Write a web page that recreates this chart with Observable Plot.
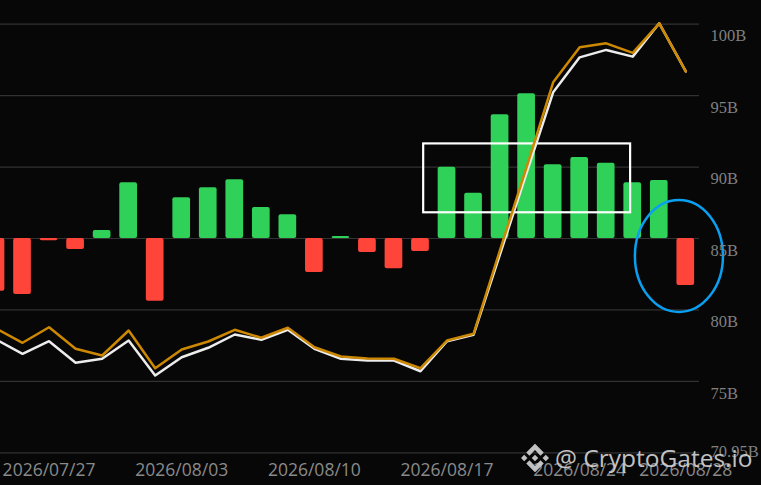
<!DOCTYPE html>
<html>
<head>
<meta charset="utf-8">
<script src="https://cdn.jsdelivr.net/npm/d3@7"></script>
<script src="https://cdn.jsdelivr.net/npm/@observablehq/plot@0.6"></script>
<style>
  html, body { margin: 0; padding: 0; background: #070707; }
  #chart { position: relative; width: 761px; height: 485px; overflow: hidden; }
  #watermark {
    position: absolute; left: 521px; top: 441px; display: flex; align-items: center;
    color: #d6d6d6; font-family: "Open Sans", sans-serif; font-size: 24.5px; opacity: 0.9;
    white-space: nowrap; pointer-events: none;
  }
  #watermark svg { margin-right: 6px; }
</style>
</head>
<body>
<div id="chart">
  <div id="watermark">
    <svg width="28" height="28" viewBox="0 0 128 128"><path fill="#d6d6d6" d="M38.7 53.2 64 27.9l25.3 25.3 14.7-14.7L64 -1.5 24 38.5zM0 64l14.7-14.7L29.4 64 14.7 78.7zM38.7 74.8 64 100.1l25.3-25.3 14.7 14.7L64 129.5 24 89.5zM98.6 64l14.7-14.7L128 64l-14.7 14.7zM78.9 64 64 49.1 49.1 64 64 78.9z"/></svg>
    <span>@ CryptoGates.io</span>
  </div>
</div>
<script>
// Trading days shown (weekdays only)
const dates = [
  "2026/07/23", "2026/07/24",
  "2026/07/27", "2026/07/28", "2026/07/29", "2026/07/30", "2026/07/31",
  "2026/08/03", "2026/08/04", "2026/08/05", "2026/08/06", "2026/08/07",
  "2026/08/10", "2026/08/11", "2026/08/12", "2026/08/13", "2026/08/14",
  "2026/08/17", "2026/08/18", "2026/08/19", "2026/08/20", "2026/08/21",
  "2026/08/24", "2026/08/25", "2026/08/26", "2026/08/27", "2026/08/28"
];

// Daily net flow, drawn up/down from the 85B line
const netFlow = [
  -3.69, -3.92,
  -0.15, -0.77, 0.56, 3.90, -4.39,
  2.85, 3.55, 4.11, 2.17, 1.66,
  -2.38, 0.14, -0.98, -2.12, -0.91,
  4.99, 3.17, 8.66, 10.13, 5.16,
  5.67, 5.27, 3.90, 4.06, -3.29
];

// Gold line (B)
const goldLine = [
  78.70, 77.70,
  78.79, 77.28, 76.81, 78.56, 75.92,
  77.23, 77.79, 78.61, 78.05, 78.75,
  77.39, 76.74, 76.60, 76.58, 75.92,
  77.86, 78.33, 84.20, 90.00, 95.93,
  98.38, 98.66, 97.99, 100.06, 96.70
];

// White line (B)
const whiteLine = [
  77.93, 76.93,
  77.81, 76.30, 76.58, 77.86, 75.41,
  76.69, 77.35, 78.28, 77.91, 78.61,
  77.28, 76.58, 76.46, 76.46, 75.71,
  77.81, 78.26, 83.90, 89.60, 95.23,
  97.68, 98.20, 97.73, 100.06, 96.70
];

const flowBase = 85;
const yTicks = [70, 75, 80, 85, 90, 95, 100];
const yTickLabels = ["70.95B", "75B", "80B", "85B", "90B", "95B", "100B"];
const xTickDays = ["2026/07/27", "2026/08/03", "2026/08/10", "2026/08/17", "2026/08/24", "2026/08/28"];

// Annotations, in data units (day index, B)
const highlightBox = { x1: 16.12, x2: 23.92, y1: 86.8, y2: 91.62 };
const highlightEllipse = { cx: 25.76, cy: 83.74, rx: 1.66, ry: 3.92 };

const rows = dates.map((d, i) => ({
  i, date: d, flow: netFlow[i], gold: goldLine[i], white: whiteLine[i]
}));
const half = 0.3336;

function ellipseMark(index, scales) {
  const ns = "http://www.w3.org/2000/svg";
  const g = document.createElementNS(ns, "g");
  const e = document.createElementNS(ns, "ellipse");
  const {cx, cy, rx, ry} = highlightEllipse;
  const px = scales.x(cx), py = scales.y(cy);
  e.setAttribute("cx", px);
  e.setAttribute("cy", py);
  e.setAttribute("rx", Math.abs(scales.x(cx + rx) - px));
  e.setAttribute("ry", Math.abs(scales.y(cy + ry) - py));
  e.setAttribute("fill", "none");
  e.setAttribute("stroke", "#0a9ff0");
  e.setAttribute("stroke-width", 2.5);
  g.appendChild(e);
  return g;
}

const plot = Plot.plot({
  width: 761,
  height: 485,
  marginLeft: 0,
  marginRight: 62,
  marginTop: 0,
  marginBottom: 32.7,
  style: { background: "#070707", overflow: "visible" },
  x: { domain: [0, 26], range: [-4.5, 685.3], axis: null },
  y: { domain: [70, 100], range: [452.3, 23.7], axis: null },
  marks: [
    Plot.gridY(yTicks, { stroke: "#323232", strokeOpacity: 1, strokeWidth: 1.2 }),
    Plot.rect(rows, {
      x1: d => d.i - half,
      x2: d => d.i + half,
      y1: flowBase,
      y2: d => flowBase + d.flow,
      fill: d => d.flow >= 0 ? "#30d158" : "#ff453a",
      rx: 2,
      clip: true,
    }),
    Plot.rect([highlightBox], {
      x1: "x1", x2: "x2", y1: "y1", y2: "y2",
      fill: "none", stroke: "#ffffff", strokeWidth: 2.2,
    }),
    Plot.line(rows, { x: "i", y: "white", stroke: "#ececec", strokeWidth: 2.5, clip: true }),
    Plot.line(rows, { x: "i", y: "gold", stroke: "#cc8800", strokeWidth: 2.5, clip: true }),
    ellipseMark,
    Plot.text(yTicks.slice(1), {
      y: d => d,
      text: d => yTickLabels[yTicks.indexOf(d)],
      frameAnchor: "right",
      textAnchor: "start",
      dx: 11,
      dy: 12,
      fill: "#808080",
      fontFamily: "Liberation Serif",
      fontSize: 16.5,
    }),
    Plot.text([yTicks[0]], {
      y: d => d,
      text: () => yTickLabels[0],
      frameAnchor: "right",
      textAnchor: "start",
      dx: 11,
      dy: -1.5,
      fill: "#808080",
      fontFamily: "Liberation Serif",
      fontSize: 16.5,
    }),
    Plot.text(xTickDays, {
      x: d => dates.indexOf(d),
      text: d => d,
      frameAnchor: "bottom",
      lineAnchor: "middle",
      dy: 17.5,
      fill: "#8a8a8a",
      fontFamily: "Open Sans",
      fontSize: 17.5,
    }),
  ],
});

document.getElementById("chart").prepend(plot);
</script>
</body>
</html>
